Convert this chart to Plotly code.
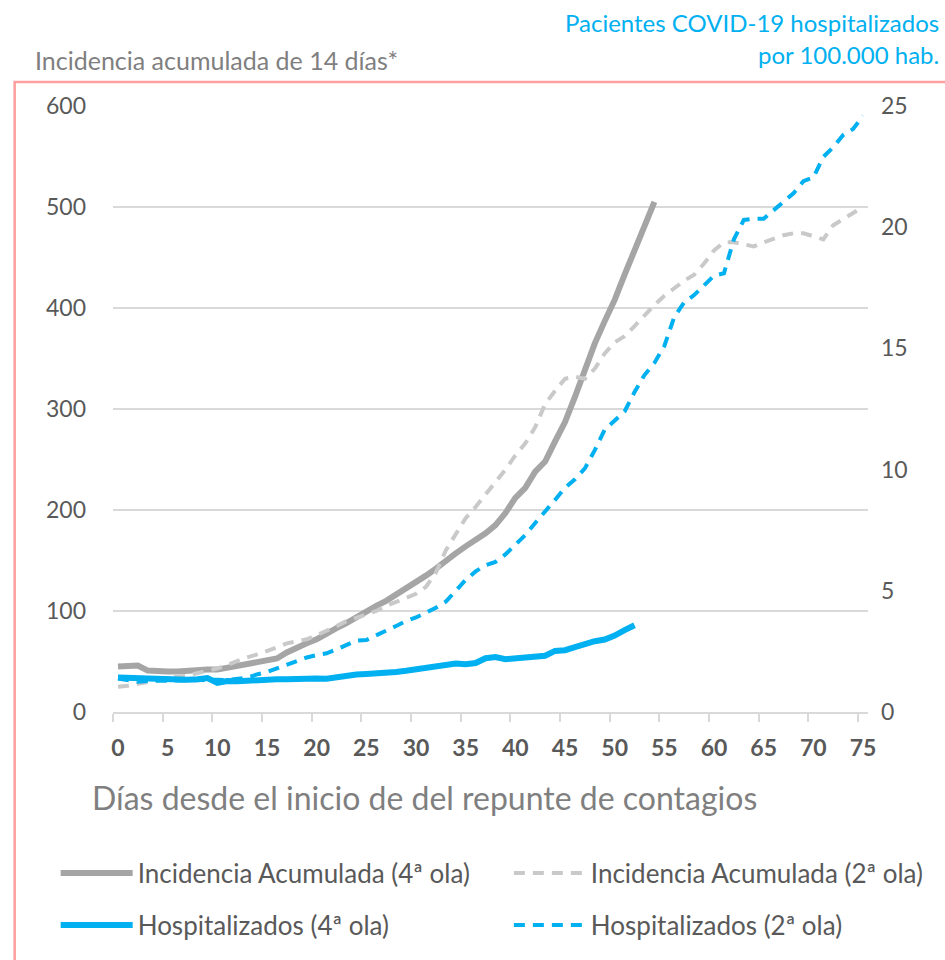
import plotly.graph_objects as go

# ---------------- data ----------------
days_4 = list(range(0, 55))
incid_4 = [45, 46, 46, 41, 40, 40, 40, 41, 41, 42, 42, 44, 45, 47, 49, 51, 53, 59, 64, 68,
           72, 78, 83, 88, 94, 99, 105, 110, 116, 122, 129, 135, 142, 150, 157, 164, 170, 177,
           185, 197, 212, 222, 238, 248, 268, 287, 312, 340, 365, 387, 408, 433, 457, 481, 505]

days_2 = list(range(0, 76))
incid_2 = [25, 26, 28, 30, 32, 33, 35, 36, 39, 41, 43, 47, 51, 54, 57, 60, 64, 68, 70, 72,
           76, 80, 85, 90, 93, 96, 100, 105, 109, 113, 117, 124, 138, 160, 176, 192, 203, 215,
           228, 240, 254, 266, 282, 305, 318, 330, 332, 330, 340, 355, 366, 372, 382, 393, 403,
           412, 420, 427, 433, 444, 457, 465, 465, 463, 461, 465, 469, 472, 474, 474, 471, 468,
           482, 488, 494, 500]

days_h4 = list(range(0, 53))
hosp_4 = [1.42, 1.40, 1.38, 1.35, 1.33, 1.35, 1.33, 1.33, 1.35, 1.40, 1.20, 1.28, 1.27, 1.30,
          1.32, 1.33, 1.35, 1.35, 1.38, 1.36, 1.38, 1.37, 1.45, 1.52, 1.55, 1.57, 1.58, 1.60,
          1.65, 1.70, 1.76, 1.80, 1.84, 1.92, 2.00, 1.97, 2.02, 2.22, 2.27, 2.18, 2.20, 2.22,
          2.24, 2.32, 2.52, 2.55, 2.68, 2.82, 2.92, 2.99, 3.15, 3.38, 3.58]

hosp_2 = [1.38, 1.30, 1.25, 1.28, 1.30, 1.28, 1.30, 1.30, 1.32, 1.35, 1.33, 1.32, 1.35, 1.42,
          1.55, 1.65, 1.80, 1.95, 2.10, 2.25, 2.35, 2.42, 2.58, 2.75, 2.95, 2.97, 3.15, 3.37,
          3.55, 3.75, 3.90, 4.10, 4.30, 4.55, 5.00, 5.45, 5.80, 6.05, 6.19, 6.50, 6.90, 7.30,
          7.80, 8.25, 8.75, 9.25, 9.60, 10.05, 10.80, 11.65, 12.00, 12.40, 13.20, 13.90, 14.40,
          15.10, 16.30, 16.90, 17.20, 17.60, 18.00, 18.10, 19.50, 20.30, 20.35, 20.35, 20.70,
          21.10, 21.40, 21.90, 22.05, 22.90, 23.30, 23.80, 24.05, 24.60]

x_ticks = list(range(0, 76, 5))
y_left_ticks = [0, 100, 200, 300, 400, 500, 600]
y_right_ticks = [0, 5, 10, 15, 20, 25]

names = ["Incidencia Acumulada (4ª ola)", "Incidencia Acumulada (2ª ola)",
         "Hospitalizados (4ª ola)", "Hospitalizados (2ª ola)"]

# ---------------- style ----------------
FONT = "Lato"
GRAY = "#A5A5A5"
LGRAY = "#C9C9C9"
BLUE = "#00B0F0"
TXT = "#595959"
TXT2 = "#7F7F7F"

fig = go.Figure()
fig.add_trace(go.Scatter(x=days_4, y=incid_4, name=names[0], mode="lines",
                         line=dict(color=GRAY, width=6), legend="legend"))
fig.add_trace(go.Scatter(x=days_2, y=incid_2, name=names[1], mode="lines",
                         line=dict(color=LGRAY, width=4, dash="11px,8px"), legend="legend2"))
fig.add_trace(go.Scatter(x=days_h4, y=hosp_4, name=names[2], mode="lines", yaxis="y2",
                         line=dict(color=BLUE, width=6), legend="legend3"))
fig.add_trace(go.Scatter(x=days_2, y=hosp_2, name=names[3], mode="lines", yaxis="y2",
                         line=dict(color=BLUE, width=4, dash="11px,8px"), legend="legend4"))

# plot area in pixels: x 113..868, y 106..712
L, R, T, B = 113.3, 868.0, 106.0, 712.0
W, H = R - L, B - T
px = lambda X: (X - L) / W
py = lambda Y: (B - Y) / H

leg_common = dict(orientation="h", xanchor="left", yanchor="middle",
                  font=dict(family=FONT, size=26, color=TXT), itemwidth=72,
                  bgcolor="rgba(0,0,0,0)")

fig.update_layout(
    width=945, height=960,
    margin=dict(l=L, r=945 - R, t=T, b=960 - B, autoexpand=False),
    paper_bgcolor="white", plot_bgcolor="white",
    font=dict(family=FONT, color=TXT),
    showlegend=True,
    legend=dict(x=px(56), y=py(873), **leg_common),
    legend2=dict(x=px(509), y=py(873), **leg_common),
    legend3=dict(x=px(56), y=py(925), **leg_common),
    legend4=dict(x=px(509), y=py(925), **leg_common),
    xaxis=dict(range=[-0.5, 75.5], tickmode="array", tickvals=x_ticks,
               ticktext=[f"<b>{v}</b>" for v in x_ticks], ticks="",
               tickfont=dict(family=FONT, size=23, color=TXT),
               showgrid=False, zeroline=False, showline=True, linecolor="#D9D9D9",
               linewidth=1.5, ticklabelstandoff=15,
               minor=dict(tickmode="linear", tick0=-0.5, dtick=5, ticks="outside",
                          ticklen=8, tickwidth=1.5, tickcolor="#D9D9D9", showgrid=False)),
    yaxis=dict(range=[0, 600], tickmode="array", tickvals=y_left_ticks,
               tickfont=dict(family=FONT, size=23, color=TXT),
               showgrid=True, gridcolor="#D9D9D9", gridwidth=1.5, zeroline=False,
               showline=False, ticks="", ticklabelstandoff=26),
    yaxis2=dict(range=[0, 25], tickmode="array", tickvals=y_right_ticks, overlaying="y",
                side="right", tickfont=dict(family=FONT, size=23, color=TXT),
                showgrid=False, zeroline=False, showline=False, ticks="",
                ticklabelstandoff=12),
)

annotations = [
    dict(text="Incidencia acumulada de 14 días*", x=px(33), y=py(60), xanchor="left",
         yanchor="middle", font=dict(family=FONT, size=25, color=TXT2)),
    dict(text="Pacientes COVID-19 hospitalizados", x=px(941), y=py(22), xanchor="right",
         yanchor="middle", font=dict(family=FONT, size=24, color=BLUE)),
    dict(text="por 100.000 hab.", x=px(941), y=py(55), xanchor="right",
         yanchor="middle", font=dict(family=FONT, size=24, color=BLUE)),
    dict(text="Días desde el inicio de del repunte de contagios", x=px(425), y=py(797),
         xanchor="center", yanchor="middle", font=dict(family=FONT, size=32, color=TXT2)),
]
for a in annotations:
    a.update(xref="paper", yref="paper", showarrow=False)
fig.update_layout(annotations=annotations)

fig.add_shape(type="rect", xref="paper", yref="paper", x0=px(15), x1=px(1000),
              y0=py(82), y1=py(1100), line=dict(color="#FF9E9E", width=2.5),
              fillcolor="rgba(0,0,0,0)", layer="below")

fig.write_html("out.html", config={"displayModeBar": False},
               post_script="document.body.style.margin='0px';")
